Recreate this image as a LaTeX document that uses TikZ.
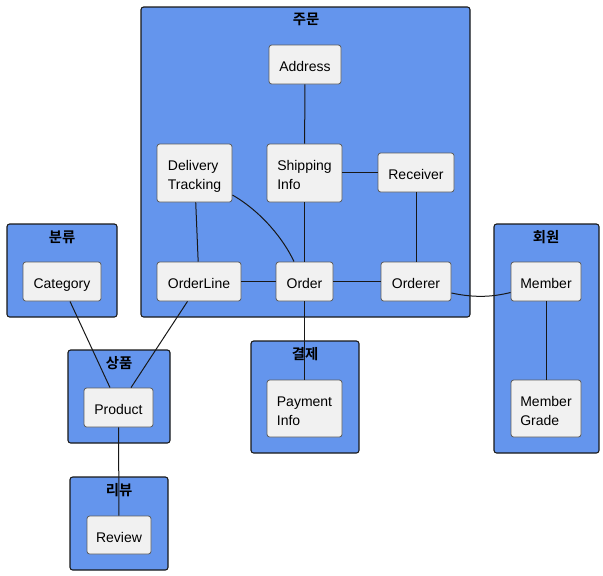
\documentclass[tikz,border=0pt]{standalone}
\usepackage{fontspec}
\setmainfont{Liberation Sans}
\newfontfamily\kr{Noto Sans CJK KR}[BoldFont={Noto Sans CJK KR Bold}]
\usetikzlibrary{calc}
\definecolor{pkgfill}{HTML}{6495ED}
\definecolor{boxfill}{HTML}{F1F1F1}
\definecolor{edge}{HTML}{181818}
\newcommand{\bt}[1]{\raisebox{-2.6pt}[\height][\depth]{\begin{tabular}{@{}l@{}}#1\end{tabular}}}
\begin{document}
\begin{tikzpicture}[x=0.75pt,y=-0.75pt,
  pkg/.style={draw=edge,fill=pkgfill,rounded corners=2pt,line width=0.8pt},
  ptitle/.style={font=\kr\bfseries\fontsize{10.8}{12}\selectfont,inner sep=0pt},
  box/.style={draw=edge!70,fill=boxfill,rounded corners=2pt,line width=0.6pt,
    inner sep=0pt,font=\fontsize{10.5}{14.25}\selectfont},
  link/.style={draw=edge,line width=0.75pt}]
\useasboundingbox (0,0) rectangle (603,575);
% packages
\draw[pkg] (141,7) rectangle (470,317);
\node[ptitle] (t1) at (306,19.5) {주문};
\draw[pkg] (7,224) rectangle (117,317);
\node[ptitle] (t2) at (62,237.5) {분류};
\draw[pkg] (68,350) rectangle (170,443);
\node[ptitle] (t3) at (119,363.5) {상품};
\draw[pkg] (70,477) rectangle (168,570);
\node[ptitle] (t4) at (119,490.5) {리뷰};
\draw[pkg] (251,341) rectangle (359,453);
\node[ptitle] (t5) at (305,354.5) {결제};
\draw[pkg] (494,224) rectangle (599,453);
\node[ptitle] (t6) at (546,237.5) {회원};
% boxes
\node[box,minimum width=72*0.75pt,minimum height=39*0.75pt] (addr) at (305,64.5) {\bt{Address}};
\node[box,minimum width=75*0.75pt,minimum height=58*0.75pt] (dt) at (194.5,173) {\bt{Delivery\\Tracking}};
\node[box,minimum width=75*0.75pt,minimum height=58*0.75pt] (ship) at (304.5,173) {\bt{Shipping\\Info}};
\node[box,minimum width=76*0.75pt,minimum height=39*0.75pt] (recv) at (416,172.5) {\bt{Receiver}};
\node[box,minimum width=84*0.75pt,minimum height=39*0.75pt] (ol) at (199,281.5) {\bt{OrderLine}};
\node[box,minimum width=57*0.75pt,minimum height=39*0.75pt] (ord) at (304.5,281.5) {\bt{Order}};
\node[box,minimum width=70*0.75pt,minimum height=39*0.75pt] (orr) at (416,281.5) {\bt{Orderer}};
\node[box,minimum width=78*0.75pt,minimum height=39*0.75pt] (cat) at (62,281.5) {\bt{Category}};
\node[box,minimum width=69*0.75pt,minimum height=39*0.75pt] (prod) at (118.5,407.5) {\bt{Product}};
\node[box,minimum width=64*0.75pt,minimum height=38*0.75pt] (rev) at (119,535) {\bt{Review}};
\node[box,minimum width=75*0.75pt,minimum height=57*0.75pt] (pay) at (304.5,408.5) {\bt{Payment\\Info}};
\node[box,minimum width=70*0.75pt,minimum height=39*0.75pt] (mem) at (546,281.5) {\bt{Member}};
\node[box,minimum width=70*0.75pt,minimum height=57*0.75pt] (mg) at (546,408.5) {\bt{Member\\Grade}};
% links
\draw[link] (addr) -- (ship);
\draw[link] (ship.east |- recv) -- (recv);
\draw[link] (ship) -- (ord);
\draw[link] (dt) -- (ol);
\draw[link] ($(dt.east)+(0,22)$) .. controls (262,212) and (284,240) .. ($(ord.north)+(-10.5,0)$);
\draw[link] (ol) -- (ord);
\draw[link] (ord) -- (orr);
\draw[link] (recv) -- (orr);
\draw[link] ($(orr.east)+(0,11.5)$) .. controls (475,298) and (492,297) .. ($(mem.west)+(0,11)$);
\draw[link] (mem) -- (mg);
\draw[link] (ord) -- (pay);
\draw[link] ($(ol.south)+(-11.5,0)$) -- ($(prod.north)+(12.5,0)$);
\draw[link] ($(cat.south)+(8,0)$) -- ($(prod.north)+(-8.5,0)$);
\draw[link] (prod) -- (rev);
\end{tikzpicture}
\end{document}
